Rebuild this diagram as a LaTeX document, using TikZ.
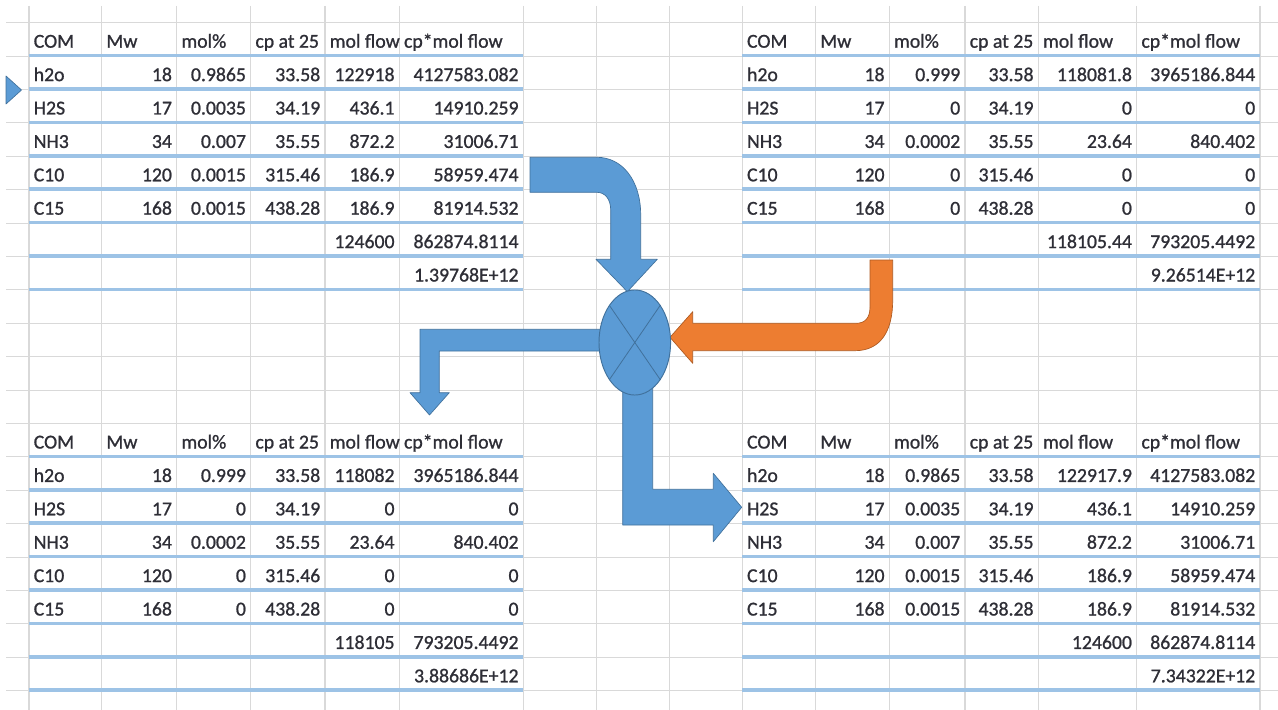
\documentclass[tikz,border=0pt]{standalone}
\usepackage{fontspec}
\setmainfont{Carlito}
\newfontfamily\cellfont{Carlito}[FakeBold=1.0]
\usetikzlibrary{shapes.geometric}
\definecolor{gridc}{HTML}{D9D9D9}
\definecolor{bord}{HTML}{9DC3E6}
\definecolor{txt}{HTML}{2E2E36}
\definecolor{ablue}{HTML}{5B9BD5}
\definecolor{abluel}{HTML}{41719C}
\definecolor{aorange}{HTML}{ED7D31}
\definecolor{aorangel}{HTML}{AE5A21}
% column edges (pixels)
\def\La{29}\def\Lb{101.7}\def\Lc{176.7}\def\Ld{250.7}\def\Le{325}\def\Lf{399.3}\def\Lg{523.3}
\def\Ra{742.3}\def\Rb{815.6}\def\Rc{889.3}\def\Rd{965}\def\Re{1038.3}\def\Rf{1136.7}\def\Rg{1260}
\newcommand\setcols[1]{%
  \edef\xa{\csname #1a\endcsname}\edef\xb{\csname #1b\endcsname}%
  \edef\xc{\csname #1c\endcsname}\edef\xd{\csname #1d\endcsname}%
  \edef\xe{\csname #1e\endcsname}\edef\xf{\csname #1f\endcsname}%
  \edef\xg{\csname #1g\endcsname}}
\newcommand\thead[3]{% prefix, side, row top
  \setcols{#2}%
  \node[lbl] (#1a) at (\xa+4.5,#3+25) {COM};
  \node[lbl] (#1b) at (\xb+4.5,#3+25) {Mw};
  \node[lbl] (#1c) at (\xc+4.5,#3+25) {mol\%};
  \node[lbl] (#1d) at (\xd+4.5,#3+25) {cp at 25};
  \node[lbl] (#1e) at (\xe+4.5,#3+25) {mol flow};
  \node[lbl] (#1f) at (\xf+4.5,#3+25) {cp*mol flow};}
\newcommand\trow[9]{% prefix, side, row top, six cells
  \setcols{#2}%
  \node[lbl] (#1a) at (\xa+4.5,#3+25) {#4};
  \node[num] (#1b) at (\xc-4.5,#3+25) {#5};
  \node[num] (#1c) at (\xd-4.5,#3+25) {#6};
  \node[num] (#1d) at (\xe-4.5,#3+25) {#7};
  \node[num] (#1e) at (\xf-4.5,#3+25) {#8};
  \node[num] (#1f) at (\xg-4.5,#3+25) {#9};}
\begin{document}
\begin{tikzpicture}[x=0.75pt,y=-0.75pt,
  font=\cellfont\fontsize{14.8}{18}\selectfont,
  lbl/.style={anchor=base west,inner sep=0pt,text=txt},
  num/.style={anchor=base east,inner sep=0pt,text=txt},
  gridline/.style={draw=gridc,line width=0.8pt},
  bordline/.style={draw=bord,line width=2.6pt},
  bluearrow/.style={fill=ablue,draw=abluel,line width=0.5pt,line join=round},
  orangearrow/.style={fill=aorange,draw=aorangel,line width=0.5pt,line join=round},
  mixer/.style={ellipse,fill=ablue,draw=abluel,line width=0.7pt,minimum width=53.7pt,minimum height=78.8pt,inner sep=0pt}]
\useasboundingbox[fill=white] (0,0) rectangle (1278,710);
% grid
\foreach \x in {\La,\Lb,\Lc,\Ld,\Le,\Lf,\Lg,596.7,669.3,\Ra,\Rb,\Rc,\Rd,\Re,\Rf,\Rg}
  \draw[gridline] (\x,6) -- (\x,710);
\foreach \k in {0,...,20}
  \draw[gridline] (6,22.7+33.4*\k) -- (1278,22.7+33.4*\k);
% table borders
\foreach \k in {1,...,8,13,14,...,20}{
  \draw[bordline] (\La,22.2+33.4*\k) -- (\Lg,22.2+33.4*\k);
  \draw[bordline] (\Ra,22.2+33.4*\k) -- (\Rg,22.2+33.4*\k);}
% top-left table
\thead{tlh}{L}{22.7}
\trow{tla}{L}{56.1}{h2o}{18}{0.9865}{33.58}{122918}{4127583.082}
\trow{tlb}{L}{89.5}{H2S}{17}{0.0035}{34.19}{436.1}{14910.259}
\trow{tlc}{L}{122.9}{NH3}{34}{0.007}{35.55}{872.2}{31006.71}
\trow{tld}{L}{156.3}{C10}{120}{0.0015}{315.46}{186.9}{58959.474}
\trow{tle}{L}{189.7}{C15}{168}{0.0015}{438.28}{186.9}{81914.532}
\node[num] (tlf1) at (\Lf-4.5,223.1+25) {124600};
\node[num] (tlf2) at (\Lg-4.5,223.1+25) {862874.8114};
\node[num] (tlg) at (\Lg-4.5,256.5+25) {1.39768E+12};
% top-right table
\thead{trh}{R}{22.7}
\trow{tra}{R}{56.1}{h2o}{18}{0.999}{33.58}{118081.8}{3965186.844}
\trow{trb}{R}{89.5}{H2S}{17}{0}{34.19}{0}{0}
\trow{trc}{R}{122.9}{NH3}{34}{0.0002}{35.55}{23.64}{840.402}
\trow{trd}{R}{156.3}{C10}{120}{0}{315.46}{0}{0}
\trow{tre}{R}{189.7}{C15}{168}{0}{438.28}{0}{0}
\node[num] (trf1) at (\Rf-4.5,223.1+25) {118105.44};
\node[num] (trf2) at (\Rg-4.5,223.1+25) {793205.4492};
\node[num] (trg) at (\Rg-4.5,256.5+25) {9.26514E+12};
% bottom-left table
\thead{blh}{L}{423.5}
\trow{bla}{L}{456.9}{h2o}{18}{0.999}{33.58}{118082}{3965186.844}
\trow{blb}{L}{490.3}{H2S}{17}{0}{34.19}{0}{0}
\trow{blc}{L}{523.7}{NH3}{34}{0.0002}{35.55}{23.64}{840.402}
\trow{bld}{L}{557.1}{C10}{120}{0}{315.46}{0}{0}
\trow{ble}{L}{590.5}{C15}{168}{0}{438.28}{0}{0}
\node[num] (blf1) at (\Lf-4.5,623.9+25) {118105};
\node[num] (blf2) at (\Lg-4.5,623.9+25) {793205.4492};
\node[num] (blg) at (\Lg-4.5,657.3+25) {3.88686E+12};
% bottom-right table
\thead{brh}{R}{423.5}
\trow{bra}{R}{456.9}{h2o}{18}{0.9865}{33.58}{122917.9}{4127583.082}
\trow{brb}{R}{490.3}{H2S}{17}{0.0035}{34.19}{436.1}{14910.259}
\trow{brc}{R}{523.7}{NH3}{34}{0.007}{35.55}{872.2}{31006.71}
\trow{brd}{R}{557.1}{C10}{120}{0.0015}{315.46}{186.9}{58959.474}
\trow{bre}{R}{590.5}{C15}{168}{0.0015}{438.28}{186.9}{81914.532}
\node[num] (brf1) at (\Rf-4.5,623.9+25) {124600};
\node[num] (brf2) at (\Rg-4.5,623.9+25) {862874.8114};
\node[num] (brg) at (\Rg-4.5,657.3+25) {7.34322E+12};
% small arrowhead at the left edge
\draw[bluearrow] (6,76) -- (21.5,90) -- (6,104) -- cycle;
% outlet arrow to the left and down
\draw[bluearrow] (625,329.3) -- (420,329.3) -- (420,392.7) -- (410,392.7) -- (429.5,415)
  -- (449.3,392.7) -- (439.3,392.7) -- (439.3,351) -- (625,351);
% outlet arrow down and right
\draw[bluearrow] (622.7,370) -- (622.7,525) -- (713.3,525) -- (713.3,541.7) -- (741.7,507.3)
  -- (713.3,473.3) -- (713.3,489.3) -- (652.7,489.3) -- (652.7,370);
% inlet arrow from the top
\draw[bluearrow] (530,157.3) -- (597,157.3) .. controls (622,157.3) and (640.7,180) .. (640.7,215)
  -- (640.7,259.3) -- (657.3,259.3) -- (627.3,291.7) -- (596,259.3) -- (610.7,259.3)
  -- (610.7,210) .. controls (610.7,199) and (605,192.3) .. (596.7,192.3) -- (530,192.3) -- cycle;
% orange inlet arrow
\draw[orangearrow] (870,260) -- (892.7,260) -- (892.7,300) .. controls (892.7,332) and (880,350.7) .. (855,350.7)
  -- (692.7,350.7) -- (692.7,363.3) -- (670,337.3) -- (692.7,311.7) -- (692.7,323.3)
  -- (856,323.3) .. controls (865,323.3) and (870,318) .. (870,307) -- cycle;
% mixer
\node[mixer] (mix) at (634.8,342.5) {};
\draw[abluel,line width=0.6pt] (mix.north east) -- (mix.south west);
\draw[abluel,line width=0.6pt] (mix.north west) -- (mix.south east);
\end{tikzpicture}
\end{document}
